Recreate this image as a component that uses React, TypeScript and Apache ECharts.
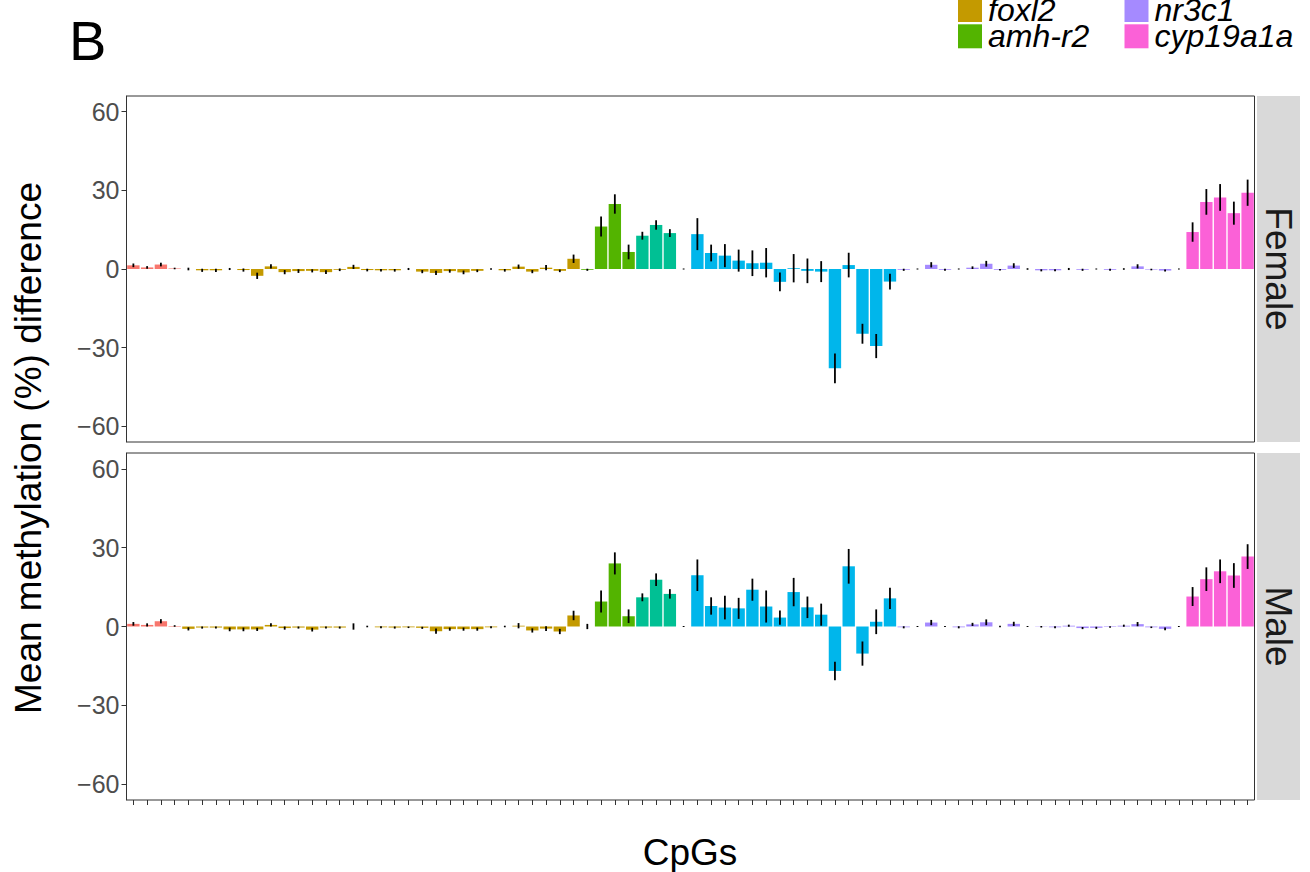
import React, { useEffect, useRef } from 'react';
import * as echarts from 'echarts';

// Genes in factor order (ggplot hue palette order)
const geneNames = ['dmrt1', 'foxl2', 'amh-r2', 'amh', 'cyp11c1', 'nr3c1', 'cyp19a1a'];
const geneColors = ['#F8766D', '#C49A00', '#53B400', '#00C094', '#00B6EB', '#A58AFF', '#FB61D7'];
// number of CpGs per gene, in x order
const geneCpgCounts = [4, 29, 4, 3, 16, 21, 5];

// Legend rows visible in the figure
const legendRows = [
  ['foxl2', 'nr3c1'],
  ['amh-r2', 'cyp19a1a'],
];

const panelNames = ['Female', 'Male'];
const yTicks = [-60, -30, 0, 30, 60];

// Female: mean methylation difference (%) per CpG
const femaleMeans = [
  1.4, 0.6, 1.7, 0.2,
  0, -0.5, -0.5, 0, -0.4, -2.6, 1.0, -1.2, -0.8, -0.7, -1.2, -0.3, 0.8, -0.4, -0.5, -0.5, 0, -1.0, -1.5, -0.8, -1.3, -0.7, 0, -0.5, 0.9, -1.0, 0.5, -0.7, 3.9,
  -0.3, 16.2, 24.8, 6.5,
  12.7, 16.8, 13.7,
  0, 13.3, 6.1, 5.1, 3.2, 2.2, 2.4, -4.9, 0.3, -0.7, -1.0, -37.9, 1.5, -24.7, -29.4, -4.8,
  -0.3, 0, 1.6, -0.3, 0, 0.5, 2.0, -0.3, 1.3, 0, -0.5, -0.5, 0, -0.3, 0, -0.3, 0, 1.0, -0.2, -0.6, 0,
  14.1, 25.6, 27.3, 21.3, 29.1,
];
const femaleErrors = [
  0.7, 0.5, 0.7, 0.3,
  0.5, 0.6, 0.6, 0.4, 0.6, 1.2, 0.8, 0.8, 0.7, 0.6, 0.7, 0.5, 0.8, 0.5, 0.5, 0.5, 0.4, 0.6, 0.8, 0.6, 0.7, 0.5, 0.3, 0.5, 0.8, 0.6, 1.0, 0.5, 1.6,
  0.4, 3.8, 3.7, 2.8,
  1.5, 1.8, 1.5,
  0.2, 6.1, 3.2, 4.4, 4.2, 4.9, 5.6, 3.6, 5.4, 4.7, 4.0, 5.7, 4.7, 3.8, 4.6, 3.0,
  0.4, 0.2, 1.0, 0.4, 0.2, 0.5, 1.1, 0.3, 0.9, 0.3, 0.4, 0.4, 0.4, 0.4, 0.2, 0.4, 0.3, 0.8, 0.3, 0.4, 0.2,
  3.7, 4.9, 5.1, 4.4, 5.0,
];

// Male: mean methylation difference (%) per CpG
const maleMeans = [
  1.0, 0.6, 2.0, 0.2,
  -0.9, -0.4, -0.4, -1.1, -1.1, -1.1, 0.6, -0.6, -0.4, -1.2, -0.4, -0.4, 0, 0, -0.3, -0.4, -0.3, -0.5, -1.8, -1.0, -1.0, -1.0, -0.3, 0, 0.3, -1.5, -0.8, -1.9, 4.2,
  0, 9.5, 24.0, 3.9,
  11.1, 17.8, 12.4,
  0, 19.5, 7.8, 7.2, 6.9, 14.0, 7.6, 3.4, 13.1, 7.3, 4.5, -16.9, 22.9, -10.3, 1.8, 10.7,
  -0.3, 0, 1.5, 0, -0.3, 0.8, 1.6, 0, 1.0, 0, -0.1, -0.3, 0.3, -0.6, -0.5, -0.2, 0.3, 0.9, -0.3, -0.9, 0,
  11.4, 18.0, 21.0, 19.4, 26.6,
];
const maleErrors = [
  0.7, 0.6, 0.8, 0.3,
  0.6, 0.4, 0.4, 0.7, 0.7, 0.6, 0.6, 0.6, 0.4, 0.7, 0.4, 0.4, 1.2, 0.3, 0.4, 0.4, 0.3, 0.4, 1.0, 0.6, 0.6, 0.6, 0.4, 0.3, 1.0, 0.8, 0.9, 1.0, 1.8,
  1.0, 4.2, 4.2, 2.6,
  1.5, 2.4, 1.8,
  0.2, 6.0, 3.3, 4.5, 4.0, 4.2, 6.1, 2.7, 5.4, 4.1, 4.2, 3.5, 6.6, 4.6, 4.7, 4.0,
  0.4, 0.2, 1.0, 0.2, 0.4, 0.6, 1.1, 0.3, 0.8, 0.2, 0.3, 0.4, 0.4, 0.4, 0.4, 0.3, 0.4, 0.8, 0.3, 0.5, 0.2,
  3.6, 4.5, 4.5, 4.7, 4.7,
];

const FONT = '"Liberation Sans", Arial, Helvetica, sans-serif';

export default function App() {
  const ref = useRef<HTMLDivElement>(null);

  useEffect(() => {
    if (!ref.current) return;
    const chart = echarts.init(ref.current, undefined, { renderer: 'svg' });

    // gene index of each CpG and category labels
    const geneOfCpg: number[] = [];
    const categories: string[] = [];
    geneCpgCounts.forEach((n, g) => {
      for (let k = 0; k < n; k++) {
        geneOfCpg.push(g);
        categories.push(`${geneNames[g]} CpG${k + 1}`);
      }
    });

    const panels = [
      { means: femaleMeans, errs: femaleErrors },
      { means: maleMeans, errs: maleErrors },
    ];

    const gridLeft = 126.5;
    const gridWidth = 1128;
    const grids = [
      { top: 96, height: 346 },
      { top: 453, height: 347 },
    ];

    const series: any[] = [];
    panels.forEach((p, pi) => {
      geneNames.forEach((gname, g) => {
        series.push({
          type: 'bar',
          name: gname,
          xAxisIndex: pi,
          yAxisIndex: pi,
          barWidth: '90%',
          barGap: '-100%',
          itemStyle: { color: geneColors[g] },
          data: p.means.map((v, i) => (geneOfCpg[i] === g ? v : '-')),
          z: 2,
        });
      });
      series.push({
        type: 'custom',
        name: `${panelNames[pi]} SE`,
        xAxisIndex: pi,
        yAxisIndex: pi,
        z: 5,
        data: p.means.map((v, i) => [i, v - p.errs[i], v + p.errs[i]]),
        renderItem: (params: any, api: any) => {
          const a = api.coord([api.value(0), api.value(1)]);
          const b = api.coord([api.value(0), api.value(2)]);
          return {
            type: 'line',
            shape: { x1: a[0], y1: a[1], x2: b[0], y2: b[1] },
            style: { stroke: '#000', lineWidth: 1.8 },
          };
        },
      });
    });

    const graphic: any[] = [];
    // Panel label
    graphic.push({
      type: 'text', left: 69, top: 12,
      style: { text: 'B', font: `56px ${FONT}`, fill: '#000' },
    });
    // Legend
    legendRows.forEach((row, r) => {
      row.forEach((name, c) => {
        const g = geneNames.indexOf(name);
        const x0 = c === 0 ? 958 : 1124.5;
        const y0 = -2 + r * 26.3;
        graphic.push({
          type: 'rect',
          shape: { x: x0, y: y0, width: 24, height: 24 },
          style: { fill: geneColors[g] },
        });
        graphic.push({
          type: 'text',
          x: x0 + 30, y: y0 + 12,
          style: {
            text: name, font: `italic 32px ${FONT}`, fill: '#000',
            verticalAlign: 'middle', align: 'left',
          },
        });
      });
    });
    // Facet strips
    grids.forEach((gr, pi) => {
      graphic.push({
        type: 'rect',
        shape: { x: 1257, y: gr.top, width: 43, height: gr.height },
        style: { fill: '#D9D9D9' },
      });
      graphic.push({
        type: 'text',
        x: 1278.5, y: gr.top + gr.height / 2,
        rotation: -Math.PI / 2,
        style: {
          text: panelNames[pi], font: `37px ${FONT}`, fill: '#1A1A1A',
          align: 'center', verticalAlign: 'middle',
        },
      });
    });
    // Axis titles
    graphic.push({
      type: 'text', x: 690, y: 852,
      style: { text: 'CpGs', font: `37px ${FONT}`, fill: '#000', align: 'center', verticalAlign: 'middle' },
    });
    graphic.push({
      type: 'text', x: 28, y: 448,
      rotation: Math.PI / 2,
      style: {
        text: 'Mean methylation (%) difference', font: `37px ${FONT}`, fill: '#000',
        align: 'center', verticalAlign: 'middle',
      },
    });

    chart.setOption({
      animation: false,
      backgroundColor: '#fff',
      textStyle: { fontFamily: FONT },
      grid: grids.map((gr) => ({
        left: gridLeft, width: gridWidth, top: gr.top, height: gr.height,
        show: true, borderColor: '#333', borderWidth: 1, backgroundColor: 'transparent',
        containLabel: false,
      })),
      xAxis: grids.map((_, pi) => ({
        type: 'category',
        gridIndex: pi,
        data: categories,
        boundaryGap: true,
        position: 'bottom',
        axisLine: { show: false, onZero: false },
        axisLabel: { show: false },
        axisTick: {
          show: pi === 1, interval: 0, alignWithLabel: true, length: 5,
          lineStyle: { color: '#333', width: 1 },
        },
        splitLine: { show: false },
      })),
      yAxis: grids.map((_, pi) => ({
        type: 'value',
        gridIndex: pi,
        min: -66,
        max: 66,
        axisLine: { show: true, lineStyle: { color: '#333' } },
        axisTick: { show: true, length: 5, customValues: yTicks, lineStyle: { color: '#333' } },
        axisLabel: {
          customValues: yTicks, fontSize: 25, color: '#4D4D4D', margin: 7, fontFamily: FONT,
          formatter: (v: number) => (v < 0 ? `\u2212${Math.abs(v)}` : `${v}`),
        },
        splitLine: { show: false },
      })),
      series,
      graphic,
    });

    return () => chart.dispose();
  }, []);

  return (
    <div
      ref={ref}
      style={{ position: 'fixed', left: 0, top: 0, width: 1310, height: 872, background: '#fff' }}
    />
  );
}
